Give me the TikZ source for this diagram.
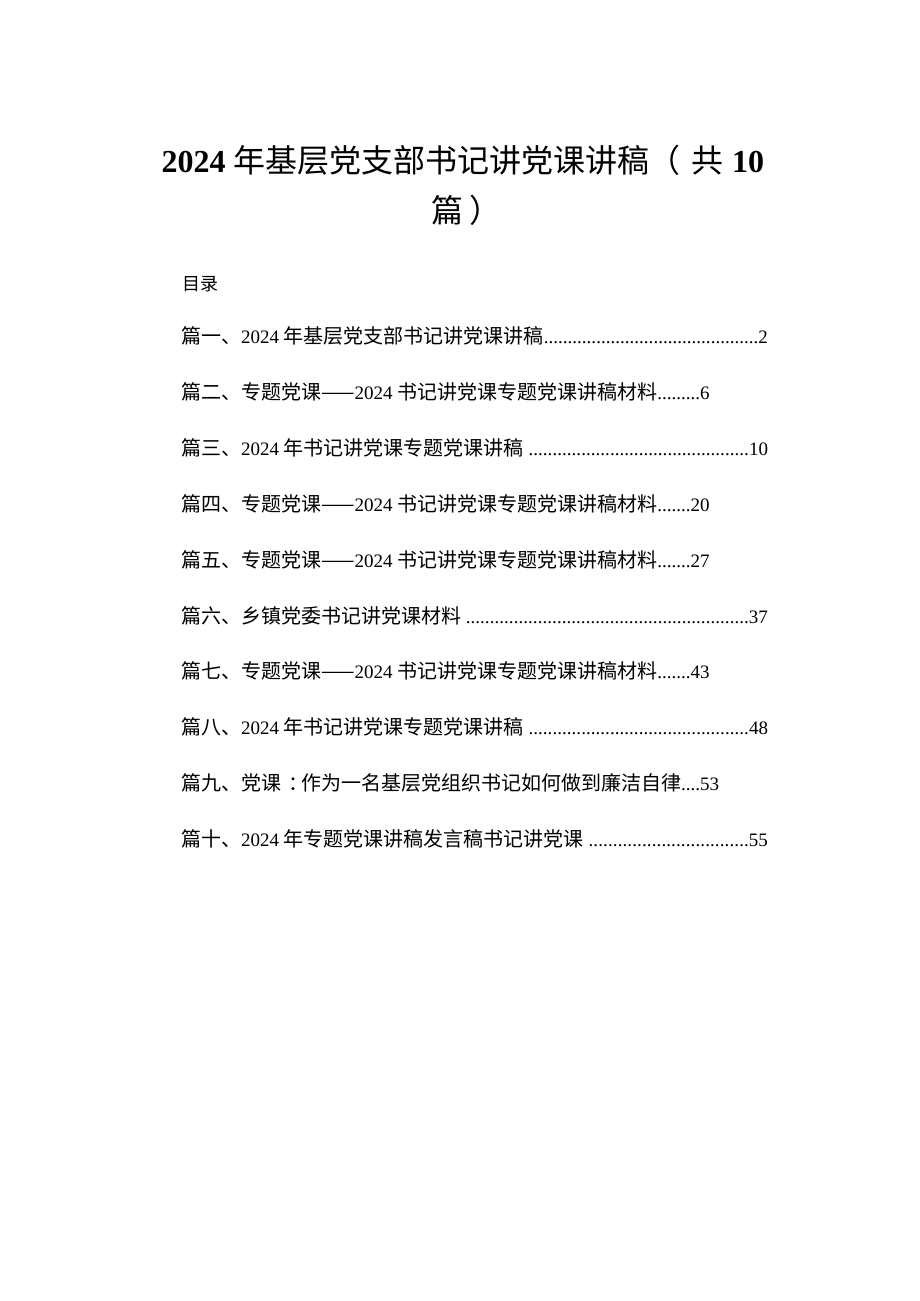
\documentclass[tikz,border=0pt]{standalone}
\usepackage{fontspec}
\setmainfont{Liberation Serif}
\newfontfamily\cjkfont{Noto Sans CJK SC}
\newcommand{\zhtxt}[1]{{\cjkfont\mdseries\fontsize{20pt}{20pt}\selectfont #1}}
\newcommand{\zhtitle}[1]{{\cjkfont\mdseries\fontsize{32pt}{32pt}\selectfont #1}}
\tikzset{
  txt/.style={anchor=base west, inner sep=0pt, outer sep=0pt, font=\fontsize{19pt}{19pt}\selectfont},
  ttl/.style={anchor=base west, inner sep=0pt, outer sep=0pt, font=\fontsize{32pt}{32pt}\selectfont\bfseries}
}
\newcommand{\tocline}[2]{\makebox[587pt][l]{#1\xleaders\hbox{.}\hfill #2}}
\begin{document}
\begin{tikzpicture}[x=1pt,y=-1pt]
\useasboundingbox (0,0) rectangle (920,1301);
\fill[white] (0,0) rectangle (920,1301);
% title
\node[ttl] (t1) at (161.7,172) {2024 \zhtitle{年基层党支部书记讲党课讲稿}};
\node[ttl] (t2) at (648,172) {\zhtitle{（}};
\node[ttl] (t2b) at (691,172) {\zhtitle{共}};
\node[ttl] (t3) at (732,172) {10};
\node[ttl] (t4) at (431,222.5) {\zhtitle{篇}};
\node[ttl] (t5) at (469,222.5) {\zhtitle{）}};
% contents heading
\node[txt] (ml) at (182,290) {{\cjkfont\fontsize{18pt}{18pt}\selectfont 目\hspace{1pt}录}};
% entries
\node[txt] (e1) at (181,343.5) {\tocline{\zhtxt{篇一、}2024 \zhtxt{年基层党支部书记讲党课讲稿}}{2}};
\node[txt] (e2) at (181,399.4) {\zhtxt{篇二、专题党课——}2024 \zhtxt{书记讲党课专题党课讲稿材料}.........6};
\node[txt] (e3) at (181,455.3) {\tocline{\zhtxt{篇三、}2024 \zhtxt{年书记讲党课专题党课讲稿} }{10}};
\node[txt] (e4) at (181,511.2) {\zhtxt{篇四、专题党课——}2024 \zhtxt{书记讲党课专题党课讲稿材料}.......20};
\node[txt] (e5) at (181,567.1) {\zhtxt{篇五、专题党课——}2024 \zhtxt{书记讲党课专题党课讲稿材料}.......27};
\node[txt] (e6) at (181,623.0) {\tocline{\zhtxt{篇六、乡镇党委书记讲党课材料} }{37}};
\node[txt] (e7) at (181,678.9) {\zhtxt{篇七、专题党课——}2024 \zhtxt{书记讲党课专题党课讲稿材料}.......43};
\node[txt] (e8) at (181,734.8) {\tocline{\zhtxt{篇八、}2024 \zhtxt{年书记讲党课专题党课讲稿} }{48}};
\node[txt] (e9) at (181,790.7) {\zhtxt{篇九、党课}\kern7pt\zhtxt{：}\kern-7pt\zhtxt{作为一名基层党组织书记如何做到廉洁自律}....53};
\node[txt] (e10) at (181,846.6) {\tocline{\zhtxt{篇十、}2024 \zhtxt{年专题党课讲稿发言稿书记讲党课} }{55}};
\end{tikzpicture}
\end{document}
